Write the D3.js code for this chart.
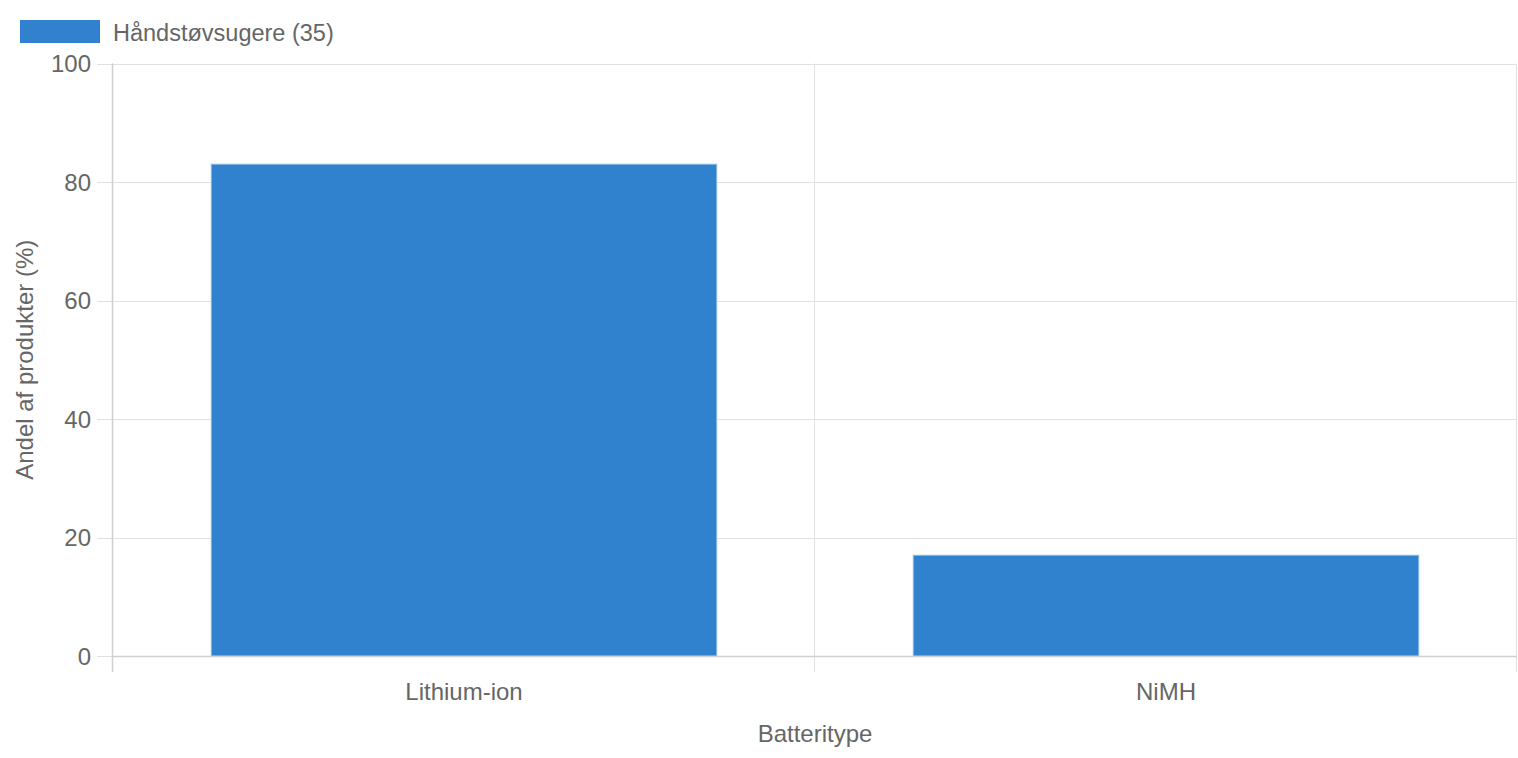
<!DOCTYPE html>
<html><head><meta charset="utf-8">
<script src="https://cdn.jsdelivr.net/npm/d3@7"></script>
<style>
html,body{margin:0;padding:0;background:#fff;}
svg{display:block;font-family:"Liberation Sans",Arial,Helvetica,sans-serif;}
</style></head>
<body>
<svg id="chart" width="1518" height="758"></svg>
<script>
const categories = ["Lithium-ion", "NiMH"];
const seriesName = "Håndstøvsugere (35)";
const seriesValues = [83, 17];
const yTicks = [0, 20, 40, 60, 80, 100];
const xTitle = "Batteritype";
const yTitle = "Andel af produkter (%)";

const W = 1518, H = 758;
const m = {left: 113, right: 1, top: 63.5, bottom: 102};
const svg = d3.select("#chart");
const x = d3.scaleBand().domain(categories).range([m.left, W - m.right]).paddingInner(0).paddingOuter(0);
const y = d3.scaleLinear().domain([0, 100]).range([H - m.bottom, m.top]);
const grid = "#e1e1e1", txt = "#666";
const fs = 24;

// horizontal grid
svg.append("g").selectAll("line").data(yTicks).join("line")
  .attr("x1", m.left - 16).attr("x2", W - m.right)
  .attr("y1", d => Math.round(y(d)) + 0.5).attr("y2", d => Math.round(y(d)) + 0.5)
  .attr("stroke", grid).attr("stroke-width", 1);
// vertical grid lines at band edges
const edges = categories.map(c => x(c)).concat([x(categories[categories.length-1]) + x.bandwidth()]);
svg.append("g").selectAll("line").data(edges).join("line")
  .attr("x1", d => Math.round(d) - 0.5).attr("x2", d => Math.round(d) - 0.5)
  .attr("y1", m.top).attr("y2", H - m.bottom + 16)
  .attr("stroke", grid).attr("stroke-width", 1);

// axis lines
svg.append("line").attr("x1", m.left - 0.5).attr("x2", m.left - 0.5).attr("y1", m.top).attr("y2", H - m.bottom + 16)
  .attr("stroke", "#d0d0d0").attr("stroke-width", 1.5);

// bars
const inner = x.bandwidth() * 0.72;
svg.append("g").selectAll("rect").data(categories).join("rect")
  .attr("x", c => x(c) + (x.bandwidth() - inner) / 2)
  .attr("width", inner)
  .attr("y", (c, i) => y(seriesValues[i]))
  .attr("height", (c, i) => y(0) - y(seriesValues[i]))
  .attr("fill", "#3182ce").attr("stroke", "#90b8e0").attr("stroke-width", 1);

svg.append("line").attr("x1", m.left).attr("x2", W - m.right).attr("y1", y(0) + 0.5).attr("y2", y(0) + 0.5)
  .attr("stroke", "#d0d0d0").attr("stroke-width", 1.5);

// y tick labels
svg.append("g").selectAll("text").data(yTicks).join("text")
  .attr("x", 91).attr("y", d => y(d) + 8.5)
  .attr("text-anchor", "end").attr("font-size", fs).attr("fill", txt).text(d => d);

// x tick labels
svg.append("g").selectAll("text").data(categories).join("text")
  .attr("x", c => x(c) + x.bandwidth() / 2).attr("y", 699.5)
  .attr("text-anchor", "middle").attr("font-size", fs).attr("fill", txt).text(c => c);

// axis titles
svg.append("text").attr("x", (m.left + W - m.right) / 2).attr("y", 742)
  .attr("text-anchor", "middle").attr("font-size", fs).attr("fill", txt).text(xTitle);
svg.append("text").attr("transform", `translate(32.5,${(m.top + H - m.bottom) / 2}) rotate(-90)`)
  .attr("text-anchor", "middle").attr("font-size", fs).attr("fill", txt).text(yTitle);

// legend
svg.append("rect").attr("x", 20).attr("y", 20).attr("width", 80).attr("height", 23).attr("fill", "#3182ce");
svg.append("text").attr("x", 113).attr("y", 40.5)
  .attr("font-size", 23.5).attr("fill", txt).text(seriesName);
</script>
</body></html>
